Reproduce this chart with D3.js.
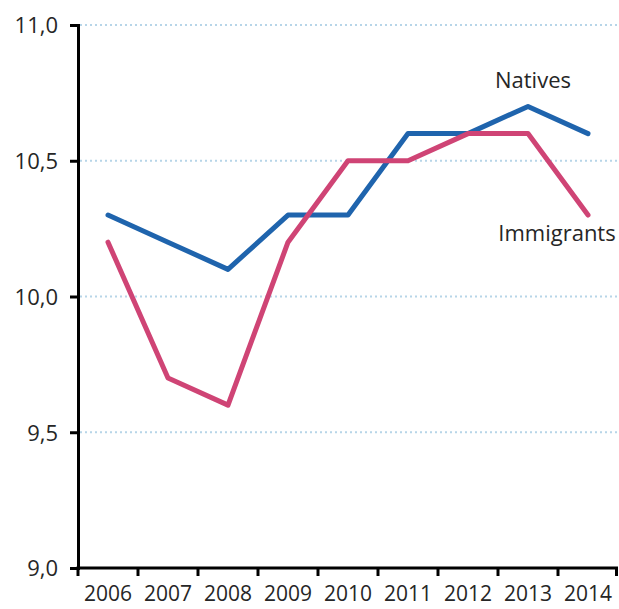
<!DOCTYPE html>
<html>
<head>
<meta charset="utf-8">
<script src="https://cdn.jsdelivr.net/npm/d3@7"></script>
<style>
  body { margin: 0; background: white; }
  text { font-family: "Open Sans", sans-serif; fill: #262626; }
</style>
</head>
<body>
<div class="chart"></div>
<script>
const years = ['2006', '2007', '2008', '2009', '2010', '2011', '2012', '2013', '2014'];
const natives = [10.3, 10.2, 10.1, 10.3, 10.3, 10.6, 10.6, 10.7, 10.6];
const immigrants = [10.2, 9.7, 9.6, 10.2, 10.5, 10.5, 10.6, 10.6, 10.3];
const yTicks = [9.0, 9.5, 10.0, 10.5, 11.0];

const w = 619;
const h = 609;
const padLeft = 78, padRight = 618, padTop = 25, padBottom = 568;

const svg = d3.select('.chart').append('svg').attr('width', w).attr('height', h);

const x = d3.scaleBand().domain(years).range([padLeft, padRight]);
const y = d3.scaleLinear().domain([9, 11]).range([padBottom, padTop]);

// gridlines
svg.append('g').selectAll('line').data(yTicks.filter(d => d > 9)).enter().append('line')
  .attr('x1', padLeft + 2).attr('x2', padRight).attr('y1', d => y(d)).attr('y2', d => y(d))
  .attr('stroke', '#b7d5e8').attr('stroke-width', 2).attr('stroke-dasharray', '2,3');

// y axis
const yAxis = svg.append('g').attr('transform', `translate(${padLeft}, 0)`)
  .call(d3.axisLeft(y).tickValues(yTicks).tickSize(8).tickPadding(12)
    .tickFormat(d => d3.format('.1f')(d).replace('.', ',')));
yAxis.select('.domain').attr('stroke', '#000').attr('stroke-width', 3);
yAxis.selectAll('.tick line').attr('stroke', '#000').attr('stroke-width', 3);
yAxis.selectAll('.tick text').style('font-size', '22px').attr('fill', '#262626').attr('dy', '0.36em');

// x axis: ticks between categories
const xAxis = svg.append('g').attr('transform', `translate(0, ${padBottom})`);
xAxis.append('line').attr('x1', padLeft - 1.5).attr('x2', padRight).attr('y1', 0).attr('y2', 0)
  .attr('stroke', '#000').attr('stroke-width', 3);
const bounds = years.map(d => x(d)).concat([padRight - 1.5]);
xAxis.selectAll('.tk').data(bounds).enter().append('line').attr('class', 'tk')
  .attr('x1', d => d).attr('x2', d => d).attr('y1', 0).attr('y2', 8)
  .attr('stroke', '#000').attr('stroke-width', 3);
xAxis.selectAll('.lbl').data(years).enter().append('text').attr('class', 'lbl')
  .attr('x', d => x(d) + x.bandwidth() / 2).attr('y', 33)
  .attr('text-anchor', 'middle').style('font-size', '21px').text(d => d);

const line = d3.line().x((d, i) => x(years[i]) + x.bandwidth() / 2).y(d => y(d));

svg.append('path').datum(natives).attr('d', line).attr('fill', 'none')
  .attr('stroke', '#1f64ad').attr('stroke-width', 5).attr('stroke-linecap', 'round').attr('stroke-linejoin', 'round');
svg.append('path').datum(immigrants).attr('d', line).attr('fill', 'none')
  .attr('stroke', '#cf4475').attr('stroke-width', 5).attr('stroke-linecap', 'round').attr('stroke-linejoin', 'round');

svg.append('text').attr('x', 533).attr('y', 88).attr('text-anchor', 'middle').style('font-size', '22px').text('Natives');
svg.append('text').attr('x', 557).attr('y', 241).attr('text-anchor', 'middle').style('font-size', '22px').text('Immigrants');
</script>
</body>
</html>
